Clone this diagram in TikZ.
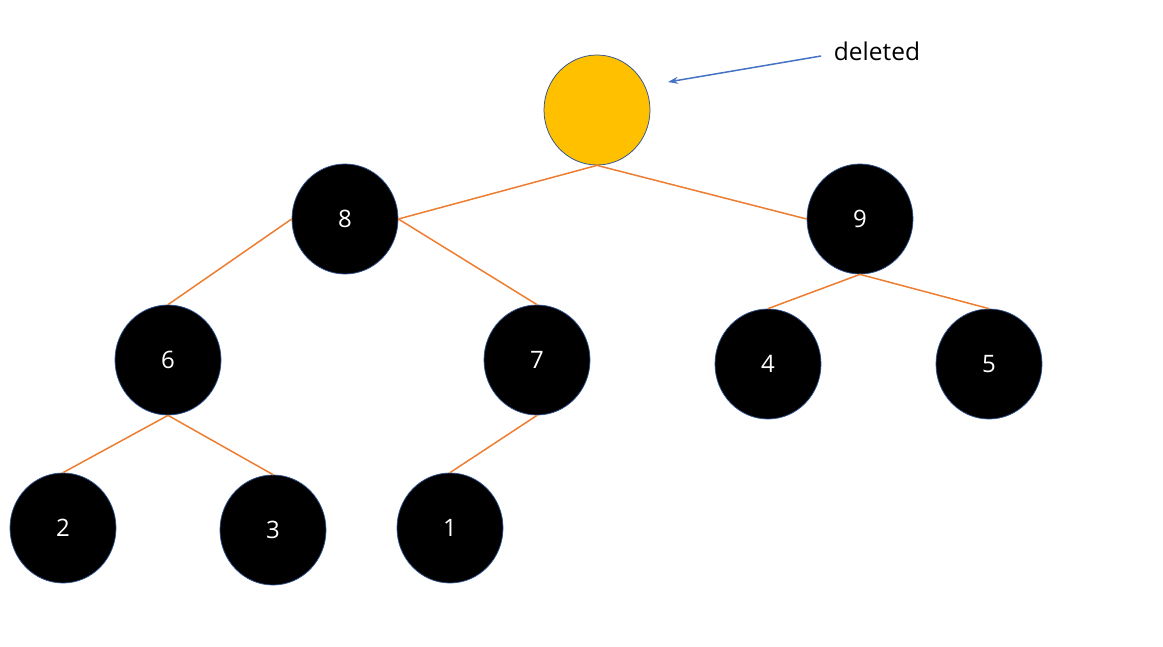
\documentclass[tikz,border=0pt]{standalone}
\usepackage{fontspec}
\setmainfont{Open Sans}
\usepackage{tikz}
\usetikzlibrary{arrows.meta,shapes.geometric}
\definecolor{RootGold}{HTML}{FFC000}
\definecolor{EdgeOrange}{HTML}{ED7D31}
\definecolor{RimBlue}{HTML}{2F528F}
\definecolor{PointerBlue}{HTML}{4472C4}

\begin{document}
\begin{tikzpicture}[x=1pt, y=-1pt,
  heapnode/.style={ellipse, draw=RimBlue, line width=0.75pt, fill=black, text=white,
    minimum width=106pt, minimum height=110pt, inner sep=0pt,
    font=\fontsize{24}{28}\selectfont},
  heapedge/.style={EdgeOrange, line width=1.5pt}]
  \useasboundingbox (0,0) rectangle (1163,646);

  \node[heapnode, fill=RootGold] (top) at (597,110) {};
  \foreach \name/\x/\y in {8/345/219, 9/860/219, 6/168/360, 7/537/360,
    4/768/364, 5/989/364, 2/63/528, 3/273/530, 1/450/528} {
    \node[heapnode] (n\name) at (\x,\y) {\name};
  }

  \draw[heapedge] (top.south) -- (n8.east);
  \draw[heapedge] (top.south) -- (n9.west);
  \draw[heapedge] (n8.west) -- (n6.north);
  \draw[heapedge] (n8.east) -- (n7.north);
  \draw[heapedge] (n9.south) -- (n4.north);
  \draw[heapedge] (n9.south) -- (n5.north);
  \draw[heapedge] (n6.south) -- (n2.north);
  \draw[heapedge] (n6.south) -- (n3.north);
  \draw[heapedge] (n7.south) -- (n1.north);

  % pointer to the removed root
  \node[font=\fontsize{24.5}{29}\selectfont, inner sep=0pt] (lbl) at (877,51) {deleted};
  \coordinate (tail) at (821,56);
  \coordinate (tip) at (668,82);
  \draw[PointerBlue, line width=1.5pt, -{Stealth[length=10pt, width=7pt]}] (tail) -- (tip);
\end{tikzpicture}
\end{document}
